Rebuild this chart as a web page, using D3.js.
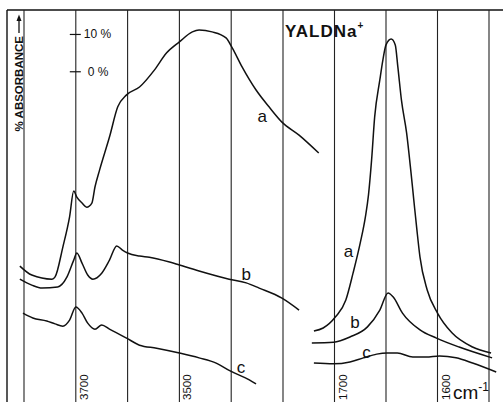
<!DOCTYPE html>
<html>
<head>
<meta charset="utf-8">
<script src="https://cdn.jsdelivr.net/npm/d3@7"></script>
<style>
  html, body { margin: 0; padding: 0; background: #fff; }
  svg { display: block; font-family: "Liberation Sans", Arial, sans-serif; }
</style>
</head>
<body>
<div id="chart"></div>
<script>
// wavenumbers (cm-1) and relative absorbance (%)
const aLeftWn  = [3808, 3785, 3746, 3740, 3725, 3712, 3704, 3698, 3688, 3679, 3669, 3663, 3654, 3635, 3619, 3602, 3577, 3548, 3525, 3500, 3475, 3462, 3437, 3410, 3398, 3379, 3352, 3327, 3302, 3269, 3231];
const aLeftAbs = [35.9, 33.5, 32.4, 33.0, 41.0, 49.1, 56.0, 54.4, 52.8, 51.7, 52.8, 57.1, 61.7, 70.5, 78.6, 81.8, 83.9, 88.5, 93.0, 96.0, 98.7, 99.2, 98.7, 97.1, 94.4, 89.3, 83.1, 78.6, 74.5, 71.0, 66.2];

const bLeftWn  = [3808, 3785, 3765, 3735, 3717, 3704, 3698, 3688, 3677, 3667, 3650, 3635, 3621, 3610, 3600, 3577, 3558, 3519, 3500, 3462, 3404, 3371, 3346, 3302, 3269];
const bLeftAbs = [32.4, 30.8, 30.0, 30.3, 33.0, 37.5, 39.4, 36.7, 33.5, 32.4, 34.0, 37.5, 41.3, 40.2, 39.4, 38.6, 38.3, 37.0, 36.2, 34.6, 32.4, 31.4, 30.0, 27.3, 24.1];

const cLeftWn  = [3802, 3783, 3756, 3740, 3725, 3712, 3700, 3688, 3677, 3663, 3650, 3635, 3602, 3577, 3544, 3500, 3462, 3429, 3402, 3365, 3352];
const cLeftAbs = [23.3, 22.0, 21.2, 20.4, 19.8, 21.4, 24.9, 23.3, 20.6, 19.0, 20.1, 19.0, 16.6, 14.7, 13.9, 12.6, 11.3, 9.9, 7.8, 5.4, 4.3];

const aRightWn  = [1720, 1711, 1699, 1689, 1682, 1675, 1670, 1667, 1664, 1661, 1656, 1653, 1650, 1645, 1641, 1638.5, 1635, 1630, 1626, 1623, 1620, 1617, 1610, 1600, 1586, 1566, 1548];
const aRightAbs = [18.5, 19.3, 22.3, 26.8, 34.0, 42.1, 49.1, 55.0, 64.3, 75.9, 85.8, 91.2, 95.2, 96.8, 95.2, 89.3, 80.4, 71.6, 61.7, 53.6, 45.6, 38.3, 29.5, 23.3, 18.0, 14.2, 12.6];

const bRightWn  = [1722, 1701, 1685, 1668, 1656, 1648, 1643, 1634, 1617, 1601, 1579, 1547];
const bRightAbs = [15.3, 15.5, 16.9, 19.6, 24.1, 28.7, 27.6, 23.3, 18.8, 16.6, 14.2, 11.3];

const cRightWn  = [1720, 1701, 1685, 1672, 1659, 1649, 1639, 1624, 1611, 1598, 1582, 1566, 1543];
const cRightAbs = [9.9, 9.7, 10.2, 11.3, 12.3, 12.6, 12.6, 11.5, 11.5, 11.8, 11.3, 9.9, 7.5];

const leftGrid  = [3800, 3700, 3600, 3500, 3400, 3300];
const rightGrid = [1700, 1650, 1600, 1550];
const leftTickLabels  = [3700, 3500];
const rightTickLabels = [1700, 1600];
const scaleBarTicks = [0, 10];   // % absorbance, offset bar
const scaleBarBase = 88;

// curve letters: [panel, wavenumber, absorbance, text]
const curveLabels = [
  ["L", 3340, 74.5, "a"], ["L", 3371, 32.2, "b"], ["L", 3381, 7.2, "c"],
  ["R", 1686.5, 38.3, "a"], ["R", 1680, 19.3, "b"], ["R", 1669, 11.3, "c"]
];

const width = 503, height = 402;

const svg = d3.select("#chart")
  .append("svg")
  .attr("width", width)
  .attr("height", height);

svg.append("rect").attr("width", width).attr("height", height).attr("fill", "#fff");

const xL = d3.scaleLinear().domain([3800, 3300]).range([24, 283]);
const xR = d3.scaleLinear().domain([1750, 1550]).range([283, 489]);
const y = d3.scaleLinear().domain([0, 100]).range([400, 27]);

const frameTop = 10;

// frame + grid
svg.append("line").attr("x1", 7).attr("x2", width).attr("y1", frameTop).attr("y2", frameTop)
  .attr("stroke", "#111").attr("stroke-width", 1.6);
svg.append("line").attr("x1", 7).attr("x2", 7).attr("y1", frameTop).attr("y2", height)
  .attr("stroke", "#111").attr("stroke-width", 1.4);

const gridX = leftGrid.map(d => xL(d)).concat(rightGrid.map(d => xR(d)));
svg.selectAll(".grid")
  .data(gridX)
  .enter()
  .append("line")
  .attr("class", "grid")
  .attr("x1", d => d).attr("x2", d => d)
  .attr("y1", frameTop).attr("y2", height)
  .attr("stroke", "#222")
  .attr("stroke-width", 1.1);

// offset scale bar on the 3700 line
svg.selectAll(".sbtick")
  .data(scaleBarTicks)
  .enter()
  .append("line")
  .attr("x1", xL(3700) - 6).attr("x2", xL(3700) + 5)
  .attr("y1", d => y(scaleBarBase + d)).attr("y2", d => y(scaleBarBase + d))
  .attr("stroke", "#111").attr("stroke-width", 1.2);

svg.selectAll(".sblabel")
  .data(scaleBarTicks)
  .enter()
  .append("text")
  .attr("x", d => d === 10 ? xL(3700) + 8 : xL(3700) + 12)
  .attr("y", d => y(scaleBarBase + d) + 4)
  .attr("font-size", 12)
  .attr("fill", "#111")
  .text(d => d + " %");

// y title with drawn arrow
svg.append("text")
  .attr("transform", "translate(23,36) rotate(-90)")
  .attr("text-anchor", "end")
  .attr("font-size", 11.5)
  .attr("font-weight", "bold")
  .attr("fill", "#111")
  .text("% ABSORBANCE");
svg.append("line")
  .attr("x1", 19).attr("x2", 19).attr("y1", 33).attr("y2", 19)
  .attr("stroke", "#111").attr("stroke-width", 1.3);
svg.append("path")
  .attr("d", "M16.5,21 L19,14.5 L21.5,21 Z")
  .attr("fill", "#111");

// title
const title = svg.append("text")
  .attr("x", 285).attr("y", 37)
  .attr("font-size", 17)
  .attr("font-weight", "bold")
  .attr("letter-spacing", 1)
  .attr("fill", "#111")
  .text("YALDNa");
title.append("tspan").attr("dy", -8).attr("font-size", 10).text("+");

// spectra
const line = sc => d3.line()
  .x(d => sc(d[0]))
  .y(d => y(d[1]))
  .curve(d3.curveMonotoneX);

const series = [
  [xL, aLeftWn, aLeftAbs], [xL, bLeftWn, bLeftAbs], [xL, cLeftWn, cLeftAbs],
  [xR, aRightWn, aRightAbs], [xR, bRightWn, bRightAbs], [xR, cRightWn, cRightAbs]
];

series.forEach(([sc, wn, ab]) => {
  svg.append("path")
    .datum(d3.zip(wn, ab))
    .attr("fill", "none")
    .attr("stroke", "#111")
    .attr("stroke-width", 1.5)
    .attr("stroke-linejoin", "round")
    .attr("d", line(sc));
});

svg.selectAll(".clabel")
  .data(curveLabels)
  .enter()
  .append("text")
  .attr("x", d => (d[0] === "L" ? xL : xR)(d[1]))
  .attr("y", d => y(d[2]))
  .attr("text-anchor", "middle")
  .attr("font-size", 17)
  .attr("fill", "#111")
  .text(d => d[3]);

// wavenumber labels, rotated
const tickLab = leftTickLabels.map(d => [xL(d), d]).concat(rightTickLabels.map(d => [xR(d), d]));
svg.selectAll(".wlabel")
  .data(tickLab)
  .enter()
  .append("text")
  .attr("transform", d => `translate(${d[0] + 12},400) rotate(-90)`)
  .attr("font-size", 11.5)
  .attr("fill", "#111")
  .text(d => d[1]);

const unit = svg.append("text")
  .attr("x", 453).attr("y", 399)
  .attr("font-size", 19)
  .attr("fill", "#111")
  .text("cm");
unit.append("tspan").attr("dy", -8).attr("font-size", 12).text("-1");
</script>
</body>
</html>
